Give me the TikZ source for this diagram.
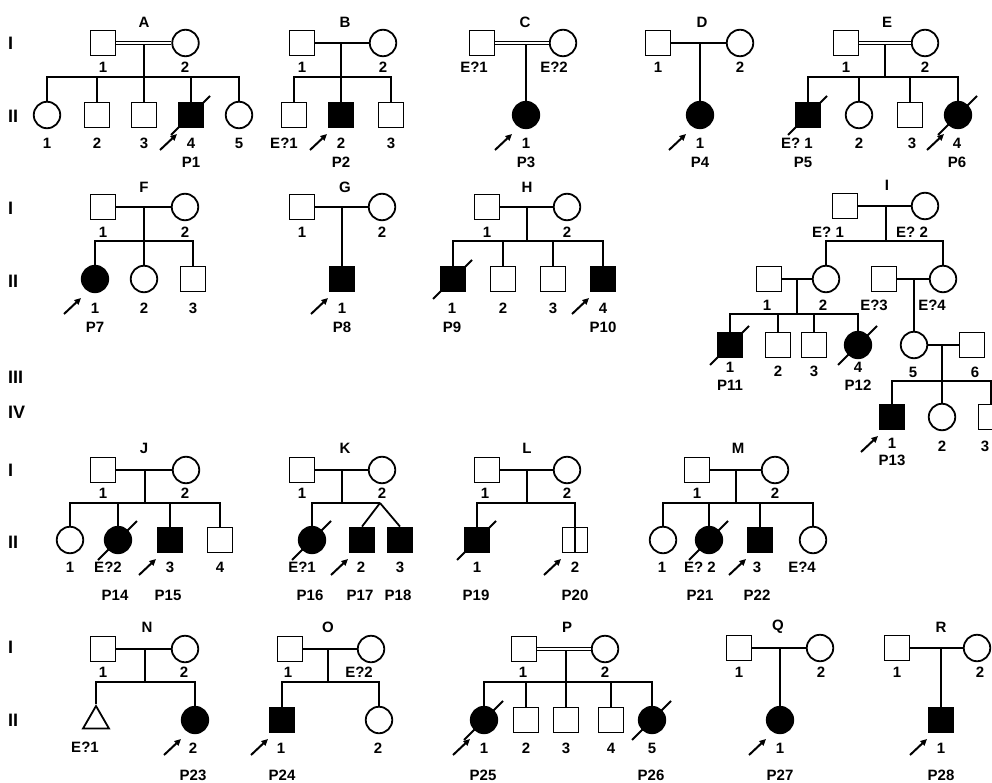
\documentclass[tikz,border=0pt]{standalone}
\usepackage{fontspec}
\setmainfont{Liberation Sans}
\usetikzlibrary{arrows.meta,shapes.geometric}

% proband arrow and deceased slash, placed from a person's centre
\newcommand{\proband}[1]{\draw[probarrow] ([shift={(-31,35)}]#1.center) -- ([shift={(-14,19)}]#1.center);}
\newcommand{\deceased}[1]{\draw[slash] ([shift={(-20,20)}]#1.center) -- ([shift={(19,-19)}]#1.center);}

\begin{document}
\begin{tikzpicture}[x=1pt,y=-1pt,
  ind/.style={draw,line width=1.8pt,inner sep=0pt,fill=white},
  male/.style={ind,rectangle,minimum size=25pt},
  female/.style={ind,circle,minimum size=26.5pt},
  unknown/.style={ind,regular polygon,regular polygon sides=3,minimum size=30pt},
  aff/.style={fill=black},
  rel/.style={line width=1.8pt},
  consang/.style={line width=1.3pt,double,double distance=2pt},
  slash/.style={line width=2pt},
  probarrow/.style={line width=2pt,-{Triangle[length=6.5pt,width=6pt]}},
  lbl/.style={font=\fontsize{15}{15}\selectfont\bfseries,inner sep=0pt},
  gen/.style={font=\fontsize{18}{18}\selectfont\bfseries,inner sep=0pt}]

\clip (0,0) rectangle (992,783);
\fill[white] (0,0) rectangle (992,783);

% generation numerals
\foreach \n/\y/\t in {ga/43/I, gb/116/II, gc/208/I, gd/281/II, ge/377/III, gf/412/IV,
                      gg/470/I, gh/542/II, gi/647/I, gj/720/II}
  \node[gen,anchor=west] (\n) at (8,\y) {\t};

% ---------------- pedigree A
\coordinate (Am) at (144,45);
\coordinate (As) at (144,77);
\draw[rel] (Am) -- (As);
\node[male] (A1) at (103,43) {};
\node[female] (A2) at (185.5,43) {};
\draw[consang] (A1) -- (A2);
\node[female] (A21) at (47,115) {};
\node[male] (A22) at (97,115) {};
\node[male] (A23) at (144,115) {};
\node[male,aff] (A24) at (191,115) {};
\node[female] (A25) at (239,115) {};
\foreach \c in {A21,A22,A23,A24,A25} \draw[rel] (As) -| (\c);
\deceased{A24} \proband{A24}
\foreach \n/\x/\y/\t in {Ah/144/22/A, Aa/103/67/1, Ab/185/67/2, Ac/47/143/1, Ad/97/143/2,
                         Ae/144/143/3, Af/191/143/4, Ag/239/143/5, Ap/191/162/P1}
  \node[lbl] (\n) at (\x,\y) {\t};

% ---------------- pedigree B
\coordinate (Bm) at (341,43);
\coordinate (Bs) at (341,77);
\node[male] (B1) at (302,43) {};
\node[female] (B2) at (383,43) {};
\draw[rel] (B1) -- (B2);
\draw[rel] (Bm) -- (Bs);
\node[male] (B21) at (294,115) {};
\node[male,aff] (B22) at (341,115) {};
\node[male] (B23) at (391,115) {};
\foreach \c in {B21,B22,B23} \draw[rel] (Bs) -| (\c);
\proband{B22}
\foreach \n/\x/\y/\t in {Bh/345/22/B, Ba/302/67/1, Bb/383/67/2, Bc/284/143/E?1,
                         Bd/341/143/2, Be/391/143/3, Bp/341/162/P2}
  \node[lbl] (\n) at (\x,\y) {\t};

% ---------------- pedigree C
\coordinate (Cm) at (526,45);
\node[female,aff] (C21) at (526,115) {};
\draw[rel] (Cm) -- (C21);
\node[male] (C1) at (482,43) {};
\node[female] (C2) at (563,43) {};
\draw[consang] (C1) -- (C2);
\proband{C21}
\foreach \n/\x/\y/\t in {Ch/525/22/C, Ca/474/67/E?1, Cb/554/67/E?2, Cc/526/143/1, Cp/526/162/P3}
  \node[lbl] (\n) at (\x,\y) {\t};

% ---------------- pedigree D
\coordinate (Dm) at (700,43);
\node[male] (D1) at (658,43) {};
\node[female] (D2) at (740,43) {};
\draw[rel] (D1) -- (D2);
\node[female,aff] (D21) at (700,115) {};
\draw[rel] (Dm) -- (D21);
\proband{D21}
\foreach \n/\x/\y/\t in {Dh/702/22/D, Da/658/67/1, Db/740/67/2, Dc/700/143/1, Dp/700/162/P4}
  \node[lbl] (\n) at (\x,\y) {\t};

% ---------------- pedigree E
\coordinate (Em) at (885,45);
\coordinate (Es) at (885,77);
\draw[rel] (Em) -- (Es);
\node[male] (E1) at (846,43) {};
\node[female] (E2) at (925,43) {};
\draw[consang] (E1) -- (E2);
\node[male,aff] (E21) at (808,115) {};
\node[female] (E22) at (859,115) {};
\node[male] (E23) at (910,115) {};
\node[female,aff] (E24) at (958,115) {};
\foreach \c in {E21,E22,E23,E24} \draw[rel] (Es) -| (\c);
\deceased{E21} \deceased{E24} \proband{E24}
\foreach \n/\x/\y/\t in {Eh/887/22/E, Ea/846/67/1, Eb/925/67/2, Ec/797/143/E? 1, Ed/859/143/2,
                         Ee/912/143/3, Ef/957/143/4, Ep/803/162/P5, Eq/957/162/P6}
  \node[lbl] (\n) at (\x,\y) {\t};

% ---------------- pedigree F
\coordinate (Fm) at (144,207);
\coordinate (Fs) at (144,241);
\node[male] (F1) at (103,207) {};
\node[female] (F2) at (185,207) {};
\draw[rel] (F1) -- (F2);
\draw[rel] (Fm) -- (Fs);
\node[female,aff] (F21) at (95,279) {};
\node[female] (F22) at (144,279) {};
\node[male] (F23) at (193,279) {};
\foreach \c in {F21,F22,F23} \draw[rel] (Fs) -| (\c);
\proband{F21}
\foreach \n/\x/\y/\t in {Fh/144/187/F, Fa/103/232/1, Fb/185/232/2, Fc/95/308/1, Fd/144/308/2,
                         Fe/193/308/3, Fp/95/327/P7}
  \node[lbl] (\n) at (\x,\y) {\t};

% ---------------- pedigree G
\coordinate (Gm) at (342,207);
\node[male] (G1) at (302,207) {};
\node[female] (G2) at (382,207) {};
\draw[rel] (G1) -- (G2);
\node[male,aff] (G21) at (342,279) {};
\draw[rel] (Gm) -- (G21);
\proband{G21}
\foreach \n/\x/\y/\t in {Gh/345/187/G, Ga/302/232/1, Gb/382/232/2, Gc/342/308/1, Gp/342/327/P8}
  \node[lbl] (\n) at (\x,\y) {\t};

% ---------------- pedigree H
\coordinate (Hm) at (527,207);
\coordinate (Hs) at (527,241);
\node[male] (H1) at (487,207) {};
\node[female] (H2) at (567,207) {};
\draw[rel] (H1) -- (H2);
\draw[rel] (Hm) -- (Hs);
\node[male,aff] (H21) at (453,279) {};
\node[male] (H22) at (503,279) {};
\node[male] (H23) at (553,279) {};
\node[male,aff] (H24) at (603,279) {};
\foreach \c in {H21,H22,H23,H24} \draw[rel] (Hs) -| (\c);
\deceased{H21} \proband{H24}
\foreach \n/\x/\y/\t in {Hh/527/187/H, Ha/487/232/1, Hb/567/232/2, Hc/452/308/1, Hd/503/308/2,
                         He/553/308/3, Hf/603/308/4, Hp/452/327/P9, Hq/603/327/P10}
  \node[lbl] (\n) at (\x,\y) {\t};

% ---------------- pedigree I (four generations)
\coordinate (Im) at (886,206);
\coordinate (Is) at (886,241);
\node[male] (I1) at (845,206) {};
\node[female] (I2) at (925,206) {};
\draw[rel] (I1) -- (I2);
\draw[rel] (Im) -- (Is);
\node[male] (I21) at (769,279) {};
\node[female] (I22) at (826,279) {};
\node[male] (I23) at (884,279) {};
\node[female] (I24) at (943,279) {};
\foreach \c in {I22,I24} \draw[rel] (Is) -| (\c);
\draw[rel] (I21) -- (I22);
\draw[rel] (I23) -- (I24);
\coordinate (I2m) at (797,279);
\coordinate (I2s) at (797,314);
\draw[rel] (I2m) -- (I2s);
\node[male,aff] (I31) at (730,345) {};
\node[male] (I32) at (778,345) {};
\node[male] (I33) at (814,345) {};
\node[female,aff] (I34) at (858,345) {};
\foreach \c in {I31,I32,I33,I34} \draw[rel] (I2s) -| (\c);
\deceased{I31} \deceased{I34}
\coordinate (I4m) at (914,279);
\node[female] (I35) at (914,345) {};
\node[male] (I36) at (972,345) {};
\draw[rel] (I4m) -- (I35);
\draw[rel] (I35) -- (I36);
\coordinate (I5m) at (942,345);
\coordinate (I5s) at (942,381);
\draw[rel] (I5m) -- (I5s);
\node[male,aff] (I41) at (892,417) {};
\node[female] (I42) at (942,417) {};
\node[male] (I43) at (991,417) {};
\foreach \c in {I41,I42,I43} \draw[rel] (I5s) -| (\c);
\proband{I41}
\foreach \n/\x/\y/\t in {Ih/887/185/I, Ia/828/232/E? 1, Ib/912/232/E? 2, Ic/767/305/1,
                         Id/823/305/2, Ie/874/305/E?3, If/932/305/E?4, Ig/730/367/1,
                         Ii/778/371/2, Ij/814/371/3, Ik/858/367/4, Ip/730/385/P11, Iq/858/385/P12,
                         Il/913/372/5, In/975/372/6, Ir/892/443/1, Is2/942/446/2, It/985/446/3,
                         Iu/892/460/P13}
  \node[lbl] (\n) at (\x,\y) {\t};

% ---------------- pedigree J
\coordinate (Jm) at (145,470);
\coordinate (Js) at (145,503);
\node[male] (J1) at (103,470) {};
\node[female] (J2) at (186,470) {};
\draw[rel] (J1) -- (J2);
\draw[rel] (Jm) -- (Js);
\node[female] (J21) at (70,540) {};
\node[female,aff] (J22) at (118,540) {};
\node[male,aff] (J23) at (170,540) {};
\node[male] (J24) at (220,540) {};
\foreach \c in {J21,J22,J23,J24} \draw[rel] (Js) -| (\c);
\deceased{J22} \proband{J23}
\foreach \n/\x/\y/\t in {Jh/144/448/J, Ja/103/493/1, Jb/185/493/2, Jc/70/567/1, Jd/108/567/E?2,
                         Je/170/567/3, Jf/220/567/4, Jp/115/595/P14, Jq/168/595/P15}
  \node[lbl] (\n) at (\x,\y) {\t};

% ---------------- pedigree K (twins)
\coordinate (Km) at (342,470);
\coordinate (Ks) at (342,503);
\coordinate (Kt) at (380,503);
\node[male] (K1) at (302,470) {};
\node[female] (K2) at (382,470) {};
\draw[rel] (K1) -- (K2);
\draw[rel] (Km) -- (Ks) -- (Kt);
\node[female,aff] (K21) at (312,540) {};
\node[male,aff] (K22) at (362,540) {};
\node[male,aff] (K23) at (400,540) {};
\draw[rel] (Ks) -| (K21);
\draw[rel] (Kt) -- (K22.north);
\draw[rel] (Kt) -- (K23.north);
\deceased{K21} \proband{K22}
\foreach \n/\x/\y/\t in {Kh/345/448/K, Ka/302/493/1, Kb/382/493/2, Kc/302/567/E?1, Kd/361/567/2,
                         Ke/400/567/3, Kp/310/595/P16, Kq/360/595/P17, Kr/398/595/P18}
  \node[lbl] (\n) at (\x,\y) {\t};

% ---------------- pedigree L
\coordinate (Lm) at (527,470);
\coordinate (Ls) at (527,503);
\node[male] (L1) at (487,470) {};
\node[female] (L2) at (567,470) {};
\draw[rel] (L1) -- (L2);
\draw[rel] (Lm) -- (Ls);
\node[male,aff] (L21) at (477,540) {};
\node[male] (L22) at (575,540) {};
\draw[rel] (L22.north) -- (L22.south);
\foreach \c in {L21,L22} \draw[rel] (Ls) -| (\c);
\deceased{L21} \proband{L22}
\foreach \n/\x/\y/\t in {Lh/527/448/L, La/485/493/1, Lb/567/493/2, Lc/477/567/1, Ld/575/567/2,
                         Lp/476/595/P19, Lq/575/595/P20}
  \node[lbl] (\n) at (\x,\y) {\t};

% ---------------- pedigree M
\coordinate (Mm) at (736,470);
\coordinate (Ms) at (736,503);
\node[male] (M1) at (697,470) {};
\node[female] (M2) at (775,470) {};
\draw[rel] (M1) -- (M2);
\draw[rel] (Mm) -- (Ms);
\node[female] (M21) at (663,540) {};
\node[female,aff] (M22) at (709,540) {};
\node[male,aff] (M23) at (760,540) {};
\node[female] (M24) at (813,540) {};
\foreach \c in {M21,M22,M23,M24} \draw[rel] (Ms) -| (\c);
\deceased{M22} \proband{M23}
\foreach \n/\x/\y/\t in {Mh/738/448/M, Ma/697/493/1, Mb/775/493/2, Mc/662/567/1, Md/700/567/E? 2,
                         Me/757/567/3, Mf/802/567/E?4, Mp/700/595/P21, Mq/757/595/P22}
  \node[lbl] (\n) at (\x,\y) {\t};

% ---------------- pedigree N
\coordinate (Nm) at (145,649);
\coordinate (Ns) at (145,682);
\node[male] (N1) at (103,649) {};
\node[female] (N2) at (185,649) {};
\draw[rel] (N1) -- (N2);
\draw[rel] (Nm) -- (Ns);
\node[unknown] (N21) at (96,721) {};
\node[female,aff] (N22) at (195,720) {};
\foreach \c in {N21,N22} \draw[rel] (Ns) -| (\c);
\proband{N22}
\foreach \n/\x/\y/\t in {Nh/147/627/N, Na/103/672/1, Nb/184/672/2, Nc/85/747/E?1, Nd/193/748/2,
                         Np/193/775/P23}
  \node[lbl] (\n) at (\x,\y) {\t};

% ---------------- pedigree O
\coordinate (Om) at (328,649);
\coordinate (Os) at (328,682);
\node[male] (O1) at (290,649) {};
\node[female] (O2) at (371,649) {};
\draw[rel] (O1) -- (O2);
\draw[rel] (Om) -- (Os);
\node[male,aff] (O21) at (282,720) {};
\node[female] (O22) at (379,720) {};
\foreach \c in {O21,O22} \draw[rel] (Os) -| (\c);
\proband{O21}
\foreach \n/\x/\y/\t in {Oh/328/627/O, Oa/288/672/1, Ob/359/672/E?2, Oc/281/748/1, Od/378/748/2,
                         Op/282/775/P24}
  \node[lbl] (\n) at (\x,\y) {\t};

% ---------------- pedigree P
\coordinate (Pm) at (566,651);
\coordinate (Ps) at (566,682);
\draw[rel] (Pm) -- (Ps);
\node[male] (P1) at (524,649) {};
\node[female] (P2) at (605,649) {};
\draw[consang] (P1) -- (P2);
\node[female,aff] (P21) at (484,720) {};
\node[male] (P22) at (526,720) {};
\node[male] (P23) at (566,720) {};
\node[male] (P24) at (611,720) {};
\node[female,aff] (P25) at (652,720) {};
\foreach \c in {P21,P22,P23,P24,P25} \draw[rel] (Ps) -| (\c);
\deceased{P21} \deceased{P25} \proband{P21}
\foreach \n/\x/\y/\t in {Ph/567/627/P, Pa/523/672/1, Pb/605/672/2, Pc/484/748/1, Pd/526/748/2,
                         Pe/566/748/3, Pf/611/748/4, Pg/652/748/5, Pp/483/775/P25, Pq/651/775/P26}
  \node[lbl] (\n) at (\x,\y) {\t};

% ---------------- pedigree Q
\coordinate (Qm) at (780,648);
\node[male] (Q1) at (739,648) {};
\node[female] (Q2) at (820,648) {};
\draw[rel] (Q1) -- (Q2);
\node[female,aff] (Q21) at (780,720) {};
\draw[rel] (Qm) -- (Q21);
\proband{Q21}
\foreach \n/\x/\y/\t in {Qh/778/627/Q, Qa/739/672/1, Qb/821/672/2, Qc/780/748/1, Qp/780/775/P27}
  \node[lbl] (\n) at (\x,\y) {\t};

% ---------------- pedigree R
\coordinate (Rm) at (941,648);
\node[male] (R1) at (897,648) {};
\node[female] (R2) at (977,648) {};
\draw[rel] (R1) -- (R2);
\node[male,aff] (R21) at (941,720) {};
\draw[rel] (Rm) -- (R21);
\proband{R21}
\foreach \n/\x/\y/\t in {Rh/941/627/R, Ra/897/672/1, Rb/980/672/2, Rc/941/748/1, Rp/941/775/P28}
  \node[lbl] (\n) at (\x,\y) {\t};
\end{tikzpicture}
\end{document}
